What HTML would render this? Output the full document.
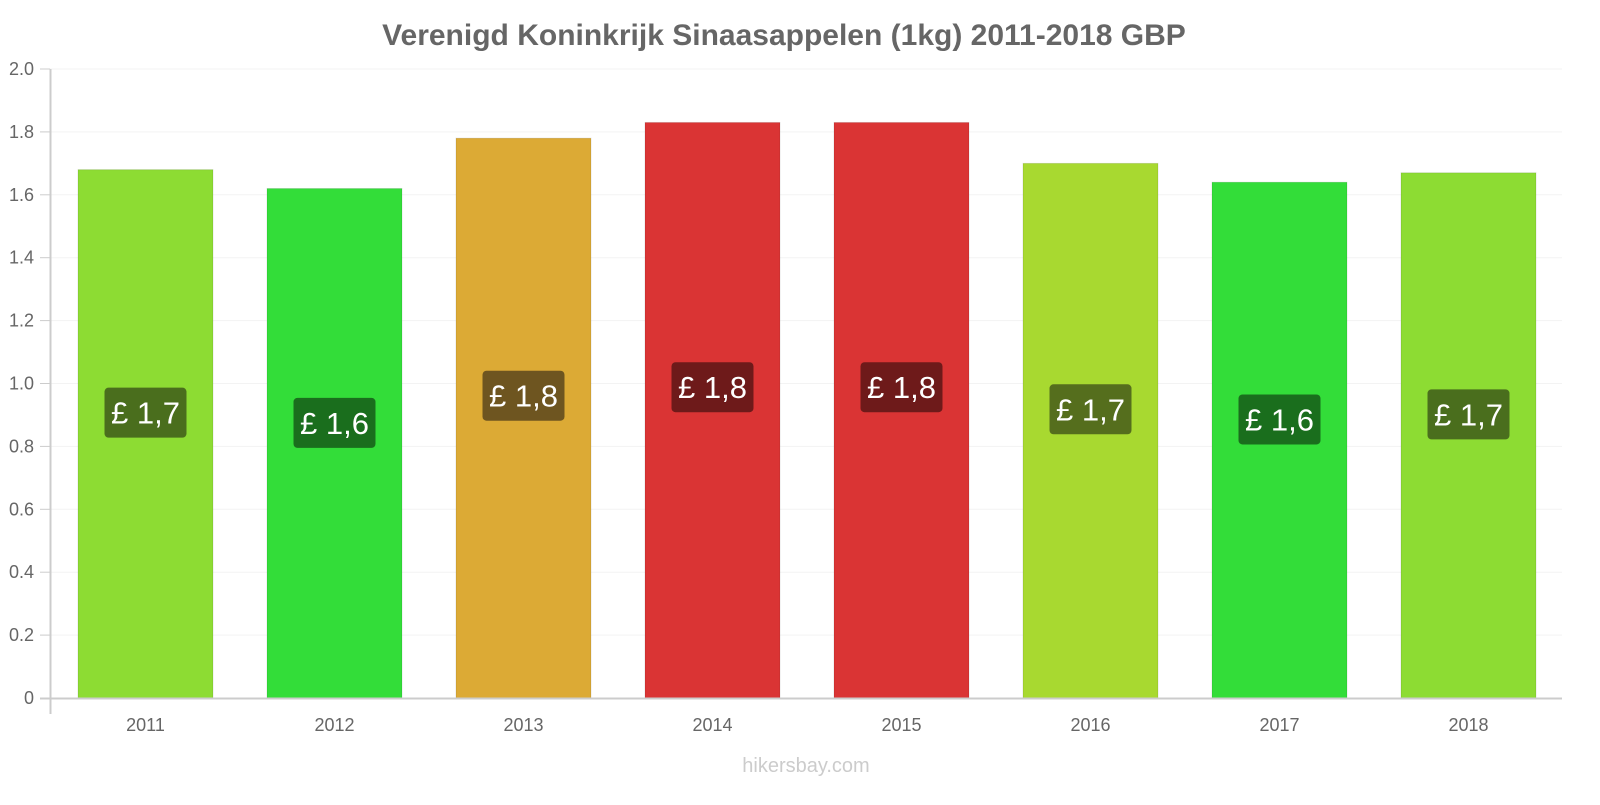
<!DOCTYPE html>
<html><head><meta charset="utf-8"><style>
body{margin:0;background:#fff;font-family:"Liberation Sans",sans-serif;}
svg text{font-family:"Liberation Sans",sans-serif;}
</style></head><body>
<svg id="chart" width="1600" height="800" viewBox="0 0 1600 800">
<text x="784" y="45" text-anchor="middle" font-size="30" font-weight="bold" fill="#666">Verenigd Koninkrijk Sinaasappelen (1kg) 2011-2018 GBP</text>
<g id="grid"></g><g id="bars"></g><g id="labels"></g>
<line x1="50.5" y1="69" x2="50.5" y2="714" stroke="#ccc" stroke-width="2"/>
<line x1="40" y1="698.5" x2="1562" y2="698.5" stroke="#ccc" stroke-width="2"/>
<text x="806" y="772" text-anchor="middle" font-size="20" fill="#ccc">hikersbay.com</text>
</svg>
<script>
const years=["2011","2012","2013","2014","2015","2016","2017","2018"];
const values=[1.68,1.62,1.78,1.83,1.83,1.70,1.64,1.67];
const valueLabels=["£ 1,7","£ 1,6","£ 1,8","£ 1,8","£ 1,8","£ 1,7","£ 1,6","£ 1,7"];
const yTicks=[0,0.2,0.4,0.6,0.8,1.0,1.2,1.4,1.6,1.8,2.0];
const yTickLabels=["0","0.2","0.4","0.6","0.8","1.0","1.2","1.4","1.6","1.8","2.0"];
const barColors=["#8ddc33","#33dd39","#dcaa35","#da3434","#da3434","#a8d930","#33dd39","#8ddc33"];
const labelColors=["#4a6e1d","#1a6e1d","#6e5520","#6e1a1a","#6e1a1a","#556e1d","#1a6e1d","#4a6e1d"];
const NS="http://www.w3.org/2000/svg";
const x0=50,step=189,yBase=698,yTop=69,yMax=2.0;
const y=v=>yBase-(v/yMax)*(yBase-yTop);
const g=document.getElementById('grid'),b=document.getElementById('bars'),l=document.getElementById('labels');
function mk(tag,attrs,parent){const e=document.createElementNS(NS,tag);for(const k in attrs)e.setAttribute(k,attrs[k]);parent.appendChild(e);return e;}
yTicks.forEach((t,i)=>{
  if(t>0){const gl=mk('line',{x1:50,x2:1562,y1:y(t),y2:y(t),stroke:'#f3f3f3'},g);
  
  }
  const tk=mk('line',{x1:40,x2:50,y1:y(t),y2:y(t),stroke:'#ccc'},g);
  
  
  const tx=mk('text',{x:34,y:y(t)+6,'text-anchor':'end','font-size':18,fill:'#666'},g);
  tx.textContent=yTickLabels[i];
  
  
});
years.forEach((yr,i)=>{
  const bx=x0+i*step+28,bw=135,top=y(values[i]),h=yBase-top;
  const r=mk('rect',{x:bx,y:top,width:bw,height:h,fill:barColors[i],stroke:'rgba(0,0,0,0.1)'},b);
  
  
  const cx=bx+bw/2,cy=top+h*0.46;
  const box=mk('rect',{x:cx-41,y:cy-25,width:82,height:50,rx:4,fill:labelColors[i]},l);
  
  
  const t=mk('text',{x:cx,y:cy+11,'text-anchor':'middle','font-size':31,fill:'#fff'},l);
  t.textContent=valueLabels[i];
  
  
  const xl=mk('text',{x:cx,y:731,'text-anchor':'middle','font-size':18,fill:'#666'},l);
  xl.textContent=yr;
  
  
});
</script>
</body></html>
